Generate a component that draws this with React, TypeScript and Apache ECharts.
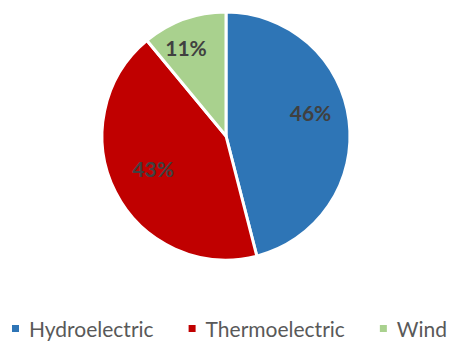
import React, { useEffect, useRef } from "react";
import * as echarts from "echarts";

const categories = ["Hydroelectric", "Thermoelectric", "Wind"];
const shares = [46, 43, 11];
const colors = ["#2E75B6", "#C00000", "#A9D18E"];

// nudges from the default "inside" label spot, per slice
const labelNudges: [number, number][] = [
  [20, -15],
  [-15, 3],
  [-18, -27],
];

export default function App() {
  const ref = useRef<HTMLDivElement>(null);

  useEffect(() => {
    if (!ref.current) return;
    const chart = echarts.init(ref.current, null, { renderer: "svg" });
    chart.setOption({
      animation: false,
      backgroundColor: "#ffffff",
      color: colors,
      legend: {
        top: 318,
        left: 10,
        width: 460,
        padding: 0,
        itemWidth: 9,
        itemHeight: 9,
        itemGap: 33,
        icon: "rect",
        textStyle: {
          fontFamily: "Lato, 'Noto Sans', sans-serif",
          fontSize: 21,
          color: "#595959",
          padding: [0, 0, 0, 4],
        },
        data: categories,
      },
      series: [
        {
          type: "pie",
          center: [226, 136],
          radius: [0, 124],
          startAngle: 90,
          clockwise: true,
          itemStyle: { borderColor: "#ffffff", borderWidth: 3 },
          label: {
            show: true,
            position: "inside",
            formatter: "{c}%",
            fontFamily: "Lato, 'Noto Sans', sans-serif",
            fontWeight: "bold",
            fontSize: 21,
            color: "#404040",
          },
          labelLine: { show: false },
          emphasis: { disabled: true },
          data: categories.map((name, i) => ({
            name,
            value: shares[i],
            label: { offset: labelNudges[i] },
          })),
        },
      ],
    });
    return () => chart.dispose();
  }, []);

  return (
    <div
      ref={ref}
      style={{ position: "fixed", left: 0, top: 0, width: 454, height: 343 }}
    />
  );
}
